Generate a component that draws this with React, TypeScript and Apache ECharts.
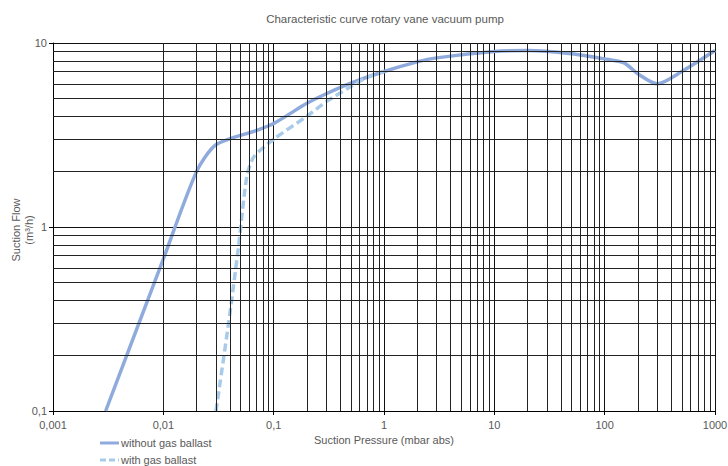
import React, { useEffect, useRef } from "react";
import * as echarts from "echarts";

const titleText = "Characteristic curve rotary vane vacuum pump";
const xAxisName = "Suction Pressure (mbar abs)";
const yAxisName = "Suction Flow\n(m³/h)";
const seriesNames = ["without gas ballast", "with gas ballast"];

// [pressure mbar abs, suction flow m³/h]
const withoutGasBallast: [number, number][] = [
  [0.003, 0.1],
  [0.01, 0.67],
  [0.02, 2.0],
  [0.03, 2.8],
  [0.07, 3.35],
  [0.1, 3.65],
  [0.2, 4.7],
  [0.3, 5.3],
  [0.5, 6.05],
  [1, 7.0],
  [2, 7.9],
  [3, 8.3],
  [10, 9.0],
  [20, 9.1],
  [50, 8.75],
  [100, 8.2],
  [150, 7.8],
  [200, 6.8],
  [300, 6.0],
  [500, 7.0],
  [1000, 9.1],
];

const withGasBallast: [number, number][] = [
  [0.03, 0.1],
  [0.039, 0.3],
  [0.048, 0.78],
  [0.057, 1.87],
  [0.066, 2.4],
  [0.1, 3.0],
  [0.2, 4.0],
  [0.3, 4.8],
  [0.5, 5.8],
  [0.7, 6.5],
  [1, 7.0],
];

const xMinorFactors = [2, 3, 4, 5, 6, 7, 8, 9];
const xDecades = [0.001, 0.01, 0.1, 1, 10, 100];
const yDecades = [0.1, 1];

const colors = ["#8FAADC", "#A9CBEA"];

const fmt = (v: number) => {
  const r = Number(v.toPrecision(6));
  return String(r).replace(".", ",");
};

export default function App() {
  const ref = useRef<HTMLDivElement>(null);
  useEffect(() => {
    if (!ref.current) return;
    const chart = echarts.init(ref.current, null, { renderer: "svg" });
    const minorX: any[] = [];
    xDecades.forEach((d) =>
      xMinorFactors.forEach((k) => minorX.push({ xAxis: Number((k * d).toPrecision(6)) }))
    );
    const minorY: any[] = [];
    yDecades.forEach((d) =>
      xMinorFactors.forEach((k) => minorY.push({ yAxis: Number((k * d).toPrecision(6)) }))
    );
    const font = "Liberation Sans, Arial, sans-serif";
    const graphics: any[] = [];
    seriesNames.forEach((name, i) => {
      const y = 443 + i * 17;
      graphics.push({
        type: "line",
        shape: { x1: 100, y1: y, x2: 119, y2: y },
        style: { stroke: colors[i], lineWidth: 3, lineDash: i === 1 ? [6, 3] : null },
      });
      graphics.push({
        type: "text",
        x: 121,
        y: y,
        style: {
          text: name,
          fill: "#595959",
          fontSize: 11,
          fontFamily: font,
          verticalAlign: "middle",
          align: "left",
        },
      });
    });
    graphics.push({
      type: "text",
      x: 22,
      y: 230,
      rotation: Math.PI / 2,
      style: {
        text: yAxisName,
        fill: "#595959",
        fontSize: 11,
        lineHeight: 13,
        fontFamily: font,
        align: "center",
        verticalAlign: "middle",
      },
    });
    chart.setOption({
      animation: false,
      textStyle: { fontFamily: font },
      title: {
        text: titleText,
        left: 380,
        textAlign: "center",
        top: 8,
        textStyle: { fontSize: 11.5, fontWeight: "normal", color: "#595959", fontFamily: font },
      },
      graphic: graphics,
      grid: { left: 53, right: 13, top: 43, bottom: 55, containLabel: false, outerBoundsMode: "none" },
      xAxis: {
        type: "log",
        logBase: 10,
        min: 0.001,
        max: 1000,
        name: xAxisName,
        nameLocation: "middle",
        nameGap: 23,
        nameTextStyle: { fontSize: 11, color: "#595959" },
        axisLine: { show: true, lineStyle: { color: "#000", width: 1 } },
        axisTick: { show: true, length: 4, lineStyle: { color: "#000" } },
        axisLabel: { fontSize: 11, color: "#595959", formatter: fmt, margin: 8 },
        splitLine: { show: true, lineStyle: { color: "#111", width: 1 } },
      },
      yAxis: {
        type: "log",
        logBase: 10,
        min: 0.1,
        max: 10,
        axisLine: { show: true, lineStyle: { color: "#000", width: 1 } },
        axisTick: { show: true, length: 4, lineStyle: { color: "#000" } },
        axisLabel: { fontSize: 11, color: "#595959", formatter: fmt, margin: 6 },
        splitLine: { show: true, lineStyle: { color: "#111", width: 1 } },
      },
      series: [
        {
          name: "grid",
          type: "line",
          data: [[1, 1]],
          showSymbol: false,
          symbol: "none",
          lineStyle: { opacity: 0 },
          silent: true,
          z: 1,
          markLine: {
            silent: true,
            symbol: "none",
            label: { show: false },
            lineStyle: { color: "#222", width: 1, type: "solid" },
            data: [...minorX, ...minorY],
          },
        },
        {
          name: seriesNames[0],
          type: "line",
          data: withoutGasBallast,
          smooth: 0.25,
          symbol: "none",
          z: 3,
          lineStyle: { color: colors[0], width: 3.5 },
          itemStyle: { color: colors[0] },
        },
        {
          name: seriesNames[1],
          type: "line",
          data: withGasBallast,
          smooth: 0.25,
          symbol: "none",
          z: 3,
          lineStyle: { color: colors[1], width: 3.5, type: [8, 4] },
          itemStyle: { color: colors[1] },
        },
      ],
    });
    return () => chart.dispose();
  }, []);
  return <div ref={ref} style={{ width: 728, height: 466, position: "absolute", left: 0, top: 0 }} />;
}
